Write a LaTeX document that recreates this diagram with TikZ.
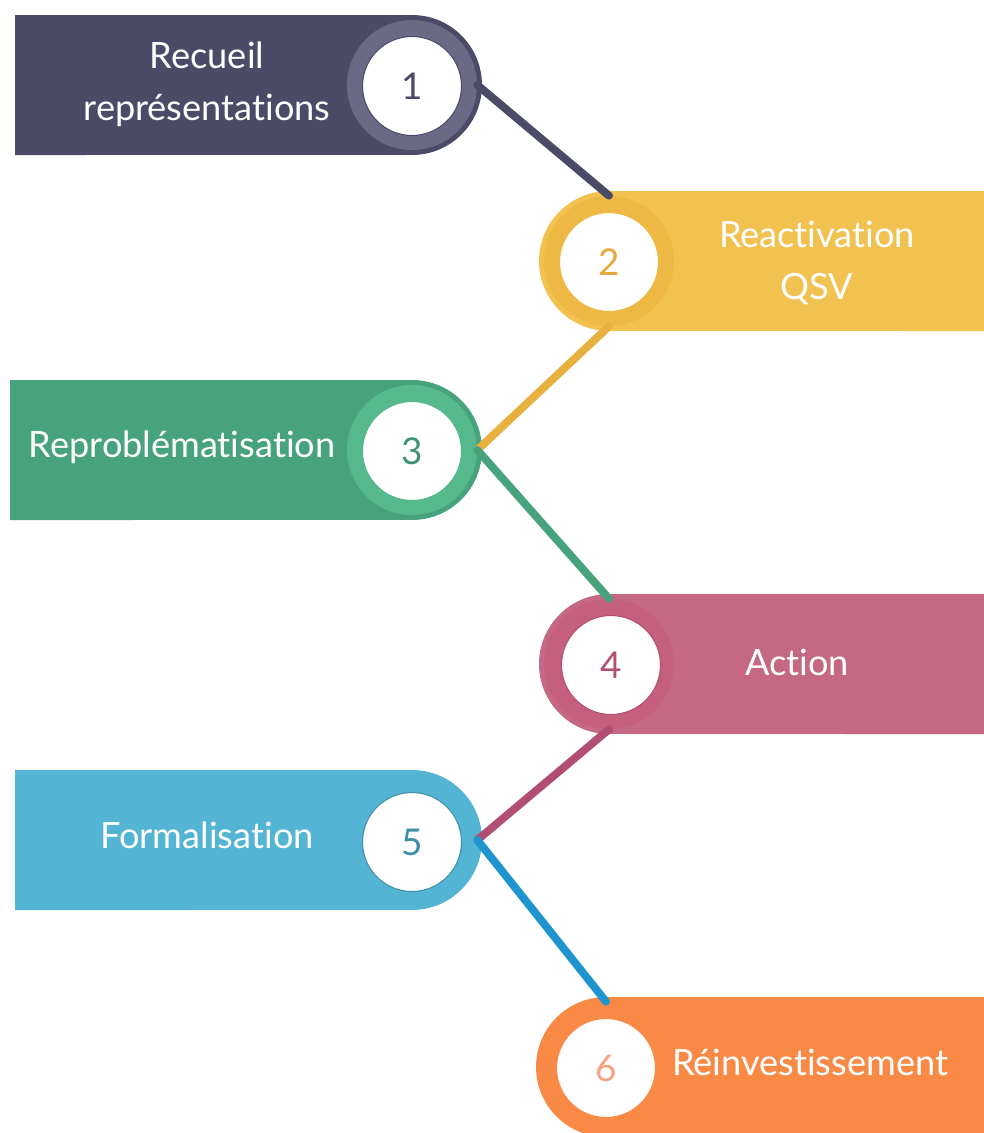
\documentclass[tikz,border=0pt]{standalone}
\usepackage{fontspec}
\setmainfont{Lato}[Ligatures={NoCommon,NoRare,NoContextual}]
\definecolor{bandA}{HTML}{4B4A67}
\definecolor{ringA}{HTML}{6A6A86}
\definecolor{bandB}{HTML}{F2C250}
\definecolor{ringB}{HTML}{EDB843}
\definecolor{numB}{HTML}{E4A93A}
\definecolor{linkB}{HTML}{E8B03E}
\definecolor{bandC}{HTML}{47A37D}
\definecolor{ringC}{HTML}{55B98D}
\definecolor{numC}{HTML}{3F9372}
\definecolor{bandD}{HTML}{C56883}
\definecolor{ringD}{HTML}{C4607E}
\definecolor{numD}{HTML}{B24E74}
\definecolor{bandE}{HTML}{53B4D4}
\definecolor{numE}{HTML}{3D8EA8}
\definecolor{linkE}{HTML}{1E95CF}
\definecolor{bandF}{HTML}{F98A45}
\definecolor{numF}{HTML}{F8A080}
\tikzset{
  ring/.style={circle, minimum size=2.6cm, inner sep=0pt},
  disc/.style={circle, fill=white, minimum size=1.98cm, inner sep=0pt, line width=0.6pt, font=\fontsize{21}{24}\selectfont},
  bandlabel/.style={text=white, align=center, font=\fontsize{20.6}{29.5}\selectfont},
  link/.style={line width=4.5pt, line cap=round},
}
\begin{document}
\begin{tikzpicture}[x=0.02cm, y=-0.02cm]
\useasboundingbox (0,0) rectangle (984,1133);
\fill[bandA] (15,15) -- (412,15) arc[start angle=90, end angle=-90, radius=1.4cm] -- (15,155) -- cycle;
\node[ring, fill=ringA] (r1) at (412,85) {};
\node[disc, draw=bandA, text=bandA] (n1) at (412,86) {1};
\node[bandlabel] (t1) at (207,84) {Recueil\\représentations};
\fill[bandB] (990,191) -- (609,191) arc[start angle=90, end angle=270, radius=1.4cm] -- (990,331) -- cycle;
\node[ring, fill=ringB] (r2) at (609,261) {};
\node[disc, draw=ringB, text=numB] (n2) at (609,262) {2};
\node[bandlabel] (t2) at (817,263) {Reactivation\\QSV};
\fill[bandC] (10,380) -- (412,380) arc[start angle=90, end angle=-90, radius=1.4cm] -- (10,520) -- cycle;
\node[ring, fill=ringC] (r3) at (412,450) {};
\node[disc, draw=ringC, text=numC] (n3) at (412,451) {3};
\node[bandlabel] (t3) at (182,447) {Reproblématisation};
\fill[bandD] (990,594) -- (609,594) arc[start angle=90, end angle=270, radius=1.4cm] -- (990,734) -- cycle;
\node[ring, fill=ringD] (r4) at (609,664) {};
\node[disc, draw=numD, text=numD] (n4) at (611,665) {4};
\node[bandlabel] (t4) at (797,662) {Action};
\fill[bandE] (15,770) -- (412,770) arc[start angle=90, end angle=-90, radius=1.4cm] -- (15,910) -- cycle;
\node[ring, fill=bandE] (r5) at (412,840) {};
\node[disc, draw=numE, text=numE] (n5) at (412,842) {5};
\node[bandlabel] (t5) at (207,835) {Formalisation};
\fill[bandF] (990,997) -- (606,997) arc[start angle=90, end angle=270, radius=1.4cm] -- (990,1137) -- cycle;
\node[ring, fill=bandF] (r6) at (606,1067) {};
\node[disc, draw=bandF, text=numF] (n6) at (606,1068) {6};
\node[bandlabel] (t6) at (810,1062) {Réinvestissement};
\draw[link, draw=bandA] (r1.east) -- (r2.north);
\draw[link, draw=linkB] (r2.south) -- (r3.east);
\draw[link, draw=bandC] (r3.east) -- (r4.north);
\draw[link, draw=numD] (r4.south) -- (r5.east);
\draw[link, draw=linkE] (r5.east) -- (r6.north);
\end{tikzpicture}
\end{document}
